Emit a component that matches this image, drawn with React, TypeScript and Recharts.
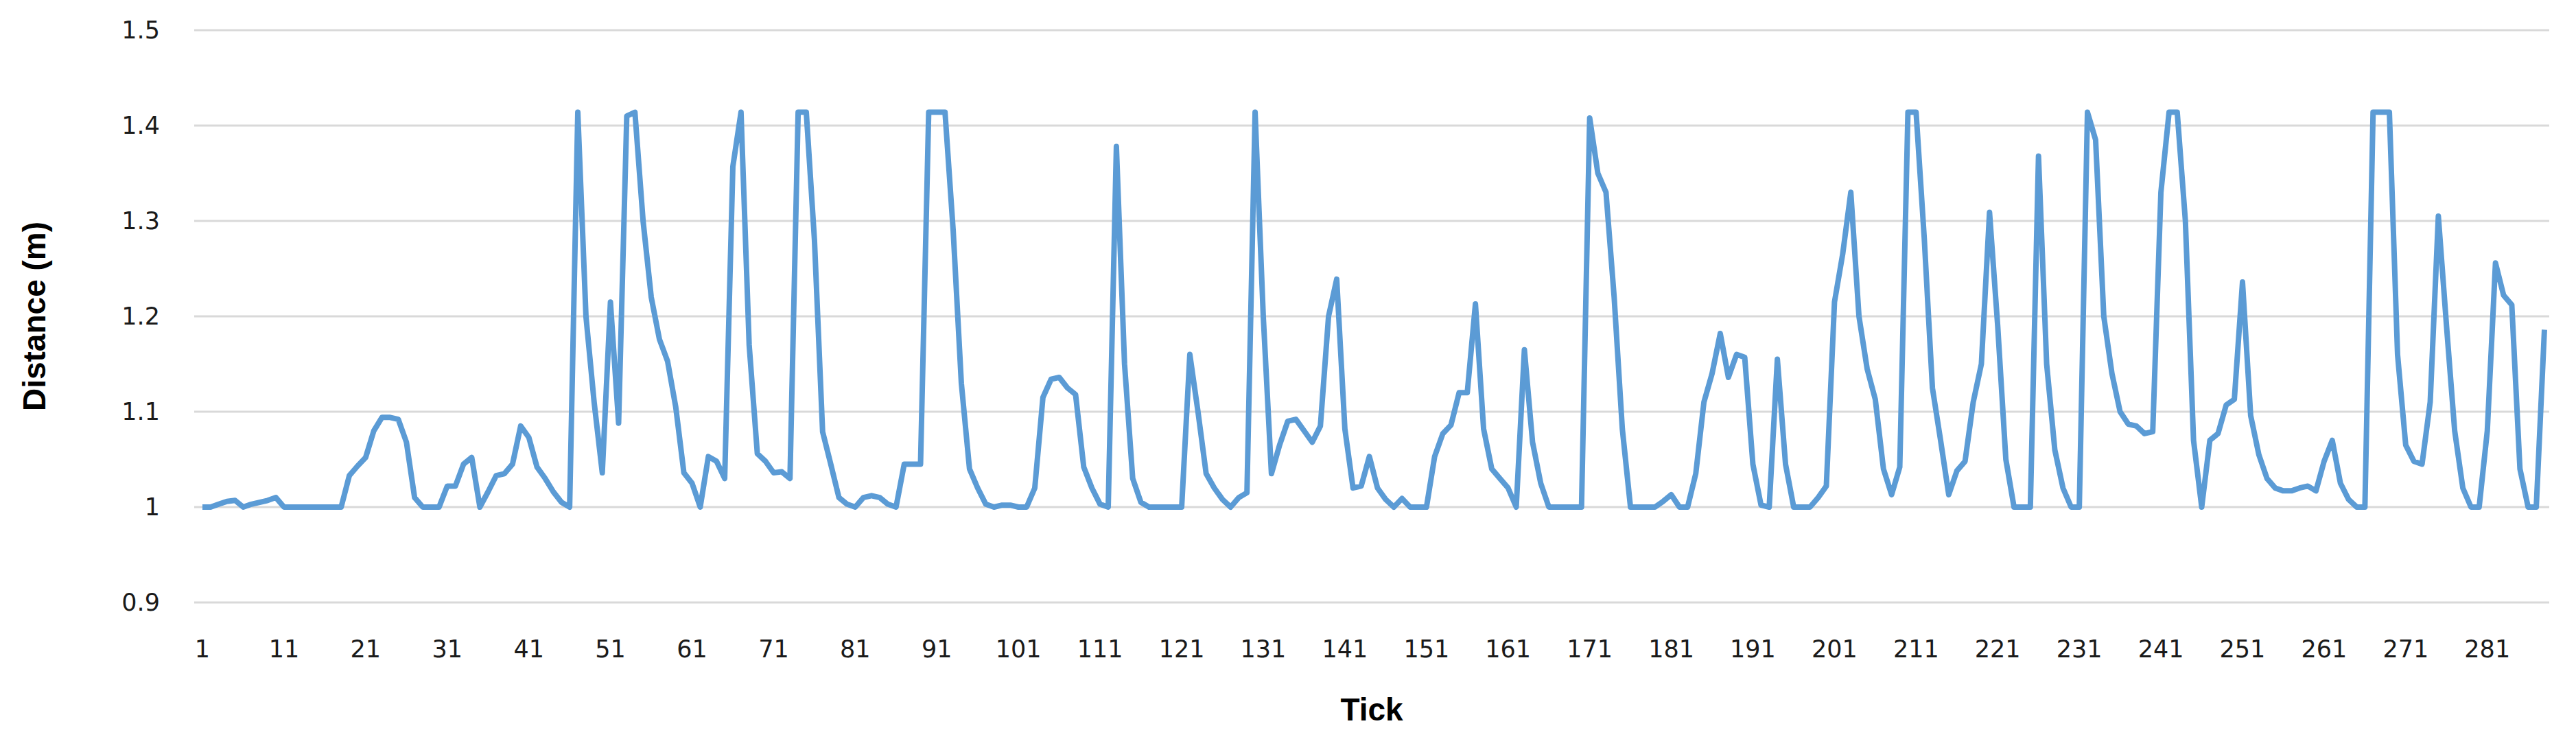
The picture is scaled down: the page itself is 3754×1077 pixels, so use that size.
import React from 'react'
import { LineChart, Line, XAxis, YAxis, CartesianGrid } from 'recharts'

const WIDTH = 3754
const HEIGHT = 1077

// distance per tick (m)
const distance = [
  1.0, 1.0, 1.003, 1.006, 1.007, 1.0, 1.003, 1.005, 1.007, 1.01,
  1.0, 1.0, 1.0, 1.0, 1.0, 1.0, 1.0, 1.0, 1.033, 1.043,
  1.052, 1.08, 1.094, 1.094, 1.092, 1.068, 1.01, 1.0, 1.0, 1.0,
  1.022, 1.022, 1.045, 1.052, 1.0, 1.016, 1.033, 1.035, 1.045, 1.085,
  1.073, 1.042, 1.03, 1.016, 1.005, 1.0, 1.414, 1.2, 1.11, 1.036,
  1.215, 1.088, 1.41, 1.414, 1.3, 1.22, 1.176, 1.153, 1.105, 1.036,
  1.025, 1.0, 1.053, 1.048, 1.03, 1.357, 1.414, 1.17, 1.056, 1.048,
  1.036, 1.037, 1.03, 1.414, 1.414, 1.28, 1.079, 1.045, 1.01, 1.003,
  1.0, 1.01, 1.012, 1.01, 1.003, 1.0, 1.045, 1.045, 1.045, 1.414,
  1.414, 1.414, 1.29, 1.13, 1.04, 1.02, 1.003, 1.0, 1.002, 1.002,
  1.0, 1.0, 1.02, 1.115, 1.134, 1.136, 1.125, 1.118, 1.042, 1.02,
  1.003, 1.0, 1.378, 1.15, 1.03, 1.005, 1.0, 1.0, 1.0, 1.0,
  1.0, 1.16, 1.1, 1.035, 1.02, 1.008, 1.0, 1.01, 1.015, 1.414,
  1.2, 1.035, 1.065, 1.09, 1.092, 1.08, 1.068, 1.085, 1.2, 1.239,
  1.082, 1.02, 1.022, 1.053, 1.02, 1.008, 1.0, 1.009, 1.0, 1.0,
  1.0, 1.053, 1.077, 1.086, 1.12, 1.12, 1.213, 1.082, 1.04, 1.03,
  1.02, 1.0, 1.165, 1.068, 1.025, 1.0, 1.0, 1.0, 1.0, 1.0,
  1.408, 1.35, 1.33, 1.22, 1.082, 1.0, 1.0, 1.0, 1.0, 1.006,
  1.013, 1.0, 1.0, 1.035, 1.11, 1.14, 1.182, 1.136, 1.16, 1.157,
  1.045, 1.002, 1.0, 1.155, 1.045, 1.0, 1.0, 1.0, 1.01, 1.022,
  1.215, 1.265, 1.33, 1.2, 1.145, 1.113, 1.04, 1.013, 1.042, 1.414,
  1.414, 1.282, 1.125, 1.07, 1.013, 1.038, 1.048, 1.11, 1.15, 1.309,
  1.19, 1.05, 1.0, 1.0, 1.0, 1.368, 1.15, 1.06, 1.02, 1.0,
  1.0, 1.414, 1.385, 1.2, 1.14, 1.1, 1.087, 1.085, 1.077, 1.079,
  1.33, 1.414, 1.414, 1.3, 1.07, 1.0, 1.07, 1.077, 1.107, 1.113,
  1.236, 1.096, 1.055, 1.03, 1.02, 1.017, 1.017, 1.02, 1.022, 1.017,
  1.048, 1.07, 1.025, 1.008, 1.0, 1.0, 1.414, 1.414, 1.414, 1.16,
  1.065, 1.048, 1.045, 1.11, 1.305, 1.19, 1.08, 1.02, 1.0, 1.0,
  1.08, 1.256, 1.222, 1.212, 1.04, 1.0, 1.0, 1.186,
]

const ticks = distance.map((_, i) => i + 1)
const yTicks = [0.9, 1, 1.1, 1.2, 1.3, 1.4, 1.5]

const data = distance.map((d, i) => ({ tick: ticks[i], distance: d }))

const fmt = (v: number) => String(Number(v.toFixed(1)))

const tickStyle = { fill: '#1a1a1a', fontSize: 35, fontFamily: '"DejaVu Sans", sans-serif' }

const titleStyle: React.CSSProperties = {
  position: 'absolute',
  whiteSpace: 'nowrap',
  fontWeight: 700,
  fontSize: 46,
  color: '#000',
  fontFamily: '"Liberation Sans", Arial, sans-serif',
}

export default function App() {
  return (
    <div style={{ position: 'absolute', left: 0, top: 0, width: WIDTH, height: HEIGHT, background: '#fff' }}>
      <LineChart width={WIDTH} height={HEIGHT} data={data} margin={{ top: 44, right: 39, bottom: 49, left: 0 }}>
        <CartesianGrid vertical={false} stroke="#d9d9d9" strokeWidth={3} />
        <XAxis
          dataKey="tick"
          interval={9}
          height={150}
          axisLine={false}
          tickLine={false}
          tickSize={0}
          tickMargin={55}
          padding={{ left: 12, right: 7 }}
          tick={tickStyle}
        />
        <YAxis
          domain={[0.9, 1.5]}
          ticks={yTicks}
          width={283}
          axisLine={false}
          tickLine={false}
          tickSize={0}
          tickMargin={50}
          tickFormatter={fmt}
          tick={tickStyle}
        />
        <Line
          type="linear"
          dataKey="distance"
          stroke="#5b9bd5"
          strokeWidth={8}
          strokeLinejoin="round"
          dot={false}
          isAnimationActive={false}
        />
      </LineChart>
      <div style={{ ...titleStyle, left: 50, top: 461, transform: 'translate(-50%, -50%) rotate(-90deg)' }}>
        Distance (m)
      </div>
      <div style={{ ...titleStyle, left: 1999, top: 1034, transform: 'translate(-50%, -50%)' }}>Tick</div>
    </div>
  )
}
